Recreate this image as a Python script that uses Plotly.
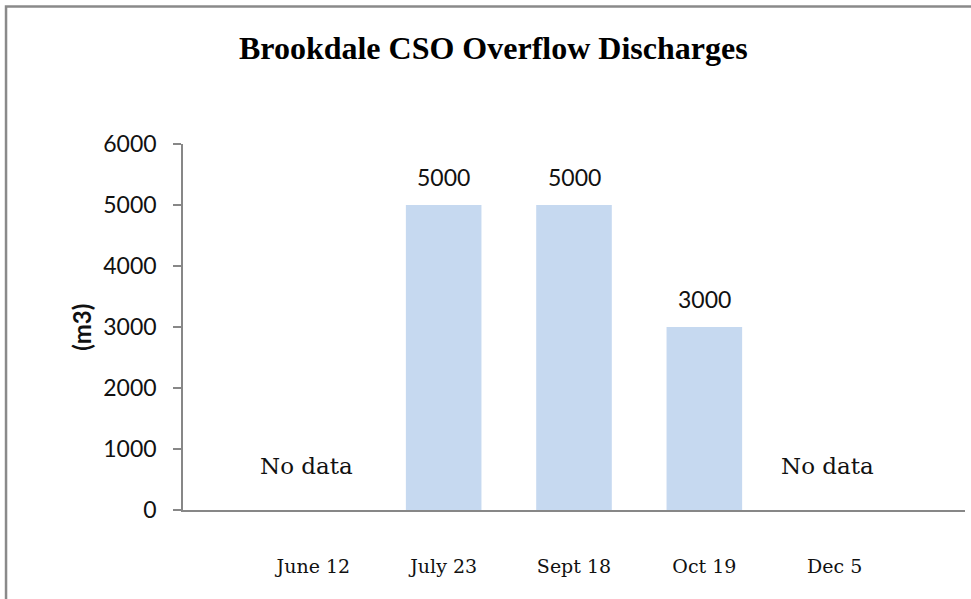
import plotly.graph_objects as go

# Overflow discharge volumes per event date (m3); None = not recorded
dates = ["June 12", "July 23", "Sept 18", "Oct 19", "Dec 5"]
volumes = [None, 5000, 5000, 3000, None]
y_ticks = [0, 1000, 2000, 3000, 4000, 5000, 6000]

AXIS_GREY = "#878787"
BAR_BLUE = "#c6d9f0"
NUM_FONT = "Lato, 'Open Sans', sans-serif"
SLAB_FONT = "'DejaVu Serif', 'Liberation Serif', serif"

fig = go.Figure()
fig.add_trace(go.Bar(
    x=dates,
    y=volumes,
    width=0.58,
    marker=dict(color=BAR_BLUE, line=dict(width=0)),
    hoverinfo="x+y",
    showlegend=False,
))

annotations = []
# value labels above recorded bars, "No data" where nothing was measured
for d, v in zip(dates, volumes):
    if v is None:
        annotations.append(dict(
            x=d, y=720, xref="x", yref="y", text="No data", showarrow=False,
            xshift=-7, font=dict(family=SLAB_FONT, size=23, color="#111111"),
        ))
    else:
        annotations.append(dict(
            x=d, y=v, xref="x", yref="y", text=str(v), showarrow=False,
            yanchor="middle", yshift=28,
            font=dict(family=NUM_FONT, size=23, color="#111111"),
        ))

# y-axis caption
annotations.append(dict(
    x=-0.129, y=0.498, xref="paper", yref="paper", text="<b>(m3)</b>",
    xanchor="center", yanchor="middle",
    textangle=-90, showarrow=False,
    font=dict(family=NUM_FONT, size=24, color="#111111"),
))

fig.update_layout(
    width=971,
    height=599,
    margin=dict(l=183, r=6, t=144, b=89),
    paper_bgcolor="white",
    plot_bgcolor="white",
    title=dict(
        text="<b>Brookdale CSO Overflow Discharges</b>",
        x=0.508, xref="container", xanchor="center",
        y=0.92, yref="container", yanchor="middle",
        font=dict(family="'Liberation Serif', 'Times New Roman', serif", size=32, color="#000000"),
    ),
    xaxis=dict(
        type="category",
        range=[-1, 5],
        showline=True, linecolor=AXIS_GREY, linewidth=1.5,
        ticks="", showgrid=False, zeroline=False,
        ticklabelstandoff=38,
        tickfont=dict(family=SLAB_FONT, size=19, color="#111111"),
    ),
    yaxis=dict(
        range=[0, 6000],
        tickvals=y_ticks,
        showline=True, linecolor=AXIS_GREY, linewidth=1.5,
        ticks="outside", ticklen=8, tickcolor=AXIS_GREY, tickwidth=1.5,
        showgrid=False, zeroline=False,
        ticklabelstandoff=12,
        tickfont=dict(family=NUM_FONT, size=23, color="#111111"),
    ),
    annotations=annotations,
    shapes=[dict(
        type="rect", xref="paper", yref="paper",
        x0=-0.2263, x1=1.3, y0=-0.6, y1=1.376,
        line=dict(color="#8a8a8a", width=2.5), fillcolor="rgba(0,0,0,0)",
        layer="below",
    )],
)

fig.write_html("out.html")
